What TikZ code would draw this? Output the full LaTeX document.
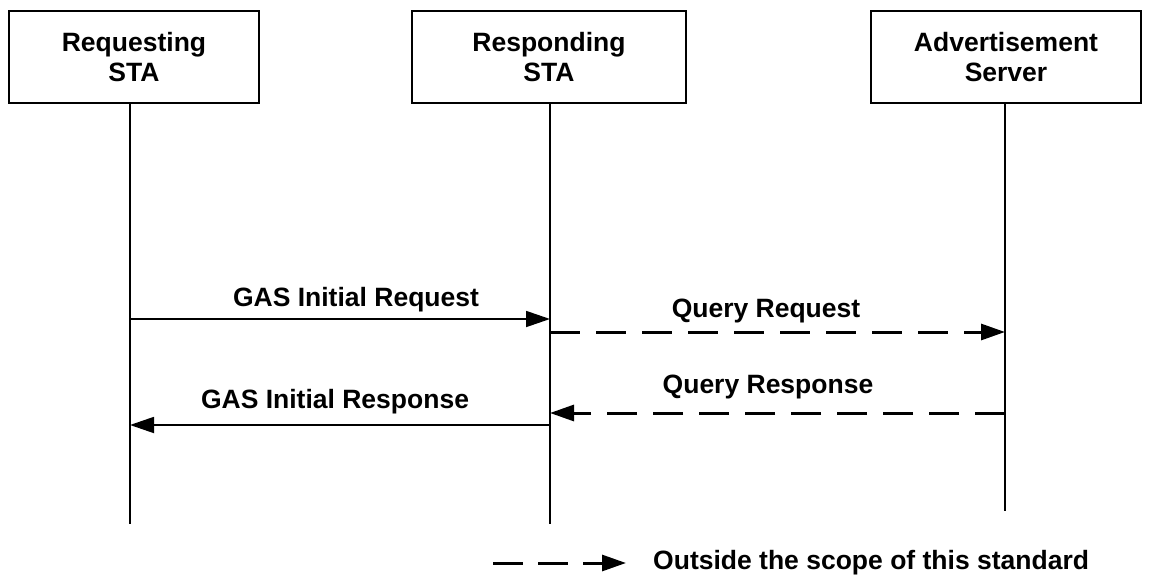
\documentclass[tikz,border=0pt]{standalone}
\usepackage{fontspec}
\setmainfont{Liberation Sans}
\usetikzlibrary{arrows.meta}
\begin{document}
\begin{tikzpicture}[x=1pt,y=-1pt,
  entity/.style={draw,line width=2.6pt,minimum width=250pt,minimum height=92pt,align=center,inner sep=0pt,
    font=\fontsize{26.5}{30}\selectfont\bfseries},
  lifeline/.style={line width=2.2pt},
  msg/.style={line width=1.8pt,-{Triangle[length=24pt,width=16pt]}},
  outmsg/.style={line width=3pt,dash pattern=on 30pt off 16pt,-{Triangle[length=24pt,width=16pt]}},
  lbl/.style={font=\fontsize{26.5}{30}\selectfont\bfseries,inner sep=0pt,anchor=base}]
\useasboundingbox (0,0) rectangle (1149,575);
\node[entity,minimum width=250pt] (req) at (134,57) {Requesting\\STA};
\node[entity,minimum width=274pt] (resp) at (549,57) {Responding\\STA};
\node[entity,minimum width=270pt] (adv) at (1006,57) {Advertisement\\Server};
\coordinate (reqE) at (130,524);
\coordinate (respE) at (550,524);
\coordinate (advE) at (1005,511);
\draw[lifeline] (130,103) -- (reqE);
\draw[lifeline] (550,103) -- (respE);
\draw[lifeline] (1005,103) -- (advE);
% messages
\coordinate (a1) at (130,319); \coordinate (b1) at (550,319);
\draw[msg] (a1) -- (b1);
\node[lbl] (l1) at (356,306) {GAS Initial Request};
\coordinate (a2) at (550,332); \coordinate (b2) at (1005,332);
\draw[outmsg] (a2) -- (b2);
\node[lbl] (l2) at (766,317) {Query Request};
\coordinate (a3) at (1005,413); \coordinate (b3) at (550,413);
\draw[outmsg] (a3) -- (b3);
\node[lbl] (l3) at (768,393) {Query Response};
\coordinate (a4) at (550,425); \coordinate (b4) at (130,425);
\draw[msg] (a4) -- (b4);
\node[lbl] (l4) at (335,408) {GAS Initial Response};
% legend
\coordinate (lg1) at (493,563); \coordinate (lg2) at (626,563);
\draw[outmsg,dash pattern=on 30pt off 15pt] (lg1) -- (lg2);
\node[font=\fontsize{26.5}{30}\selectfont\bfseries,anchor=west,inner sep=0pt] (lt) at (653,563) {Outside the scope of this standard};
\end{tikzpicture}
\end{document}
